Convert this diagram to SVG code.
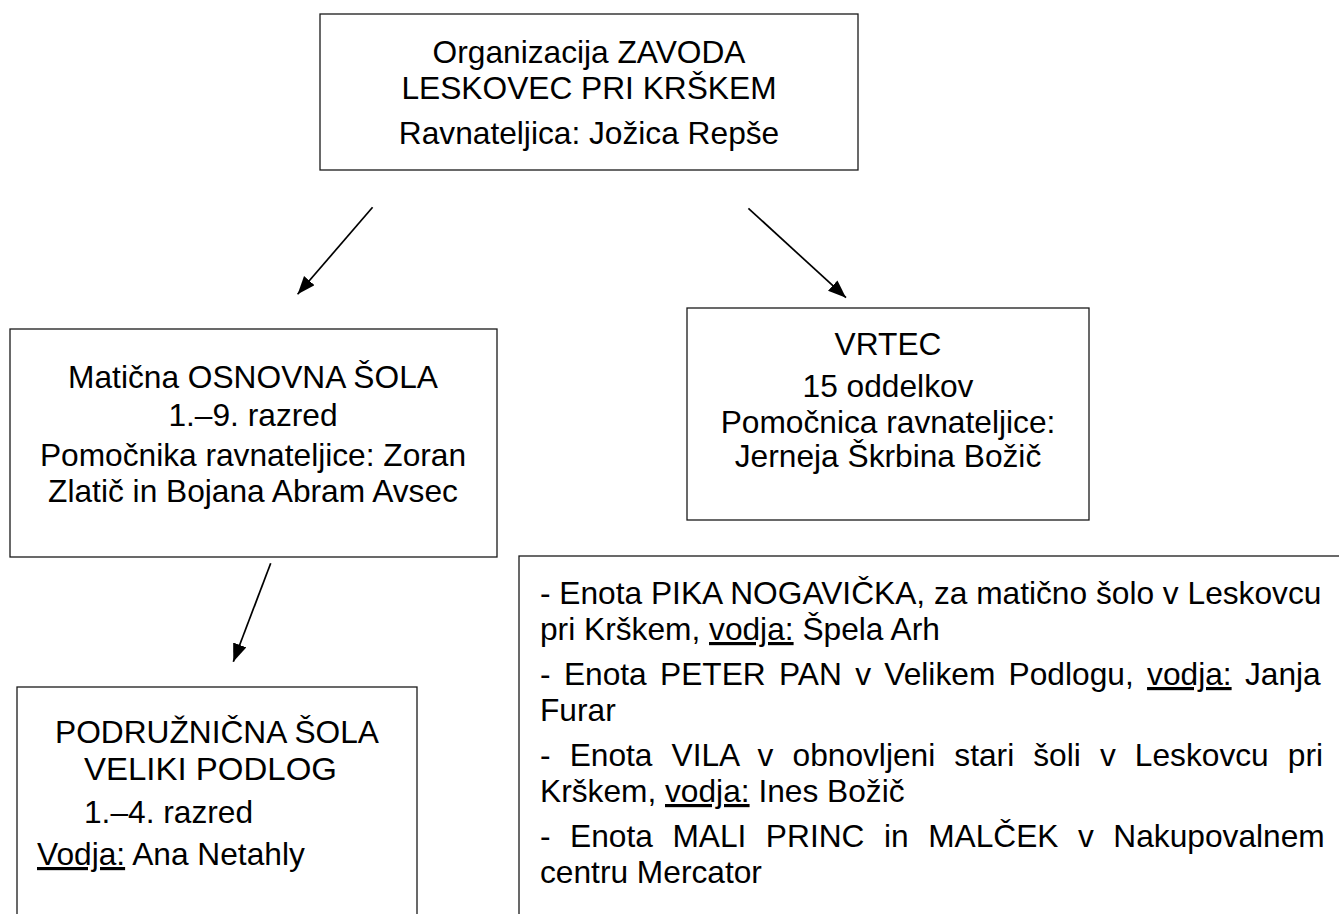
<svg xmlns="http://www.w3.org/2000/svg" width="1339" height="914" viewBox="0 0 1339 914">
<defs>
<style>
.box{fill:#fff;stroke:#1a1a1a;stroke-width:1.3}
text{font-family:"Liberation Sans",Arial,sans-serif;font-size:31.7px;fill:#000}
.c{text-anchor:middle}
.u{text-decoration:underline}
.conn line{stroke:#000;stroke-width:1.7}
</style>
<marker id="ah" markerUnits="userSpaceOnUse" markerWidth="19" markerHeight="15" refX="18" refY="7" orient="auto"><path d="M0,0 L18,7 L0,14 Z" fill="#000"/></marker>
</defs>
<rect width="1339" height="914" fill="#fff"/>
<g id="zavod">
<rect class="box" x="320" y="14" width="538" height="156"/>
<text class="c" x="589" y="63">Organizacija ZAVODA</text>
<text class="c" x="589" y="99">LESKOVEC PRI KRŠKEM</text>
<text class="c" x="589" y="144">Ravnateljica: Jožica Repše</text>
</g>
<g id="osnovna-sola">
<rect class="box" x="10" y="329" width="487" height="228"/>
<text class="c" x="253" y="388">Matična OSNOVNA ŠOLA</text>
<text class="c" x="253" y="426">1.–9. razred</text>
<text class="c" x="253" y="466">Pomočnika ravnateljice: Zoran</text>
<text class="c" x="253" y="502">Zlatič in Bojana Abram Avsec</text>
</g>
<g id="vrtec">
<rect class="box" x="687" y="308" width="402" height="212"/>
<text class="c" x="888" y="355">VRTEC</text>
<text class="c" x="888" y="397">15 oddelkov</text>
<text class="c" x="888" y="433">Pomočnica ravnateljice:</text>
<text class="c" x="888" y="467">Jerneja Škrbina Božič</text>
</g>
<g id="enote">
<rect class="box" x="519" y="556" width="840" height="400"/>
<text x="540" y="604">- Enota PIKA NOGAVIČKA, za matično šolo v Leskovcu</text>
<text x="540" y="640">pri Krškem, <tspan class="u">vodja:</tspan> Špela Arh</text>
<text x="540" y="685" word-spacing="4.53">- Enota PETER PAN v Velikem Podlogu, <tspan class="u">vodja:</tspan> Janja</text>
<text x="540" y="721">Furar</text>
<text x="540" y="766" word-spacing="10.29">- Enota VILA v obnovljeni stari šoli v Leskovcu pri</text>
<text x="540" y="802">Krškem, <tspan class="u">vodja:</tspan> Ines Božič</text>
<text x="540" y="847" word-spacing="10.71">- Enota MALI PRINC in MALČEK v Nakupovalnem</text>
<text x="540" y="883">centru Mercator</text>
</g>
<g id="podruznicna-sola">
<rect class="box" x="17" y="687" width="400" height="260"/>
<text class="c" x="217" y="743">PODRUŽNIČNA ŠOLA</text>
<text x="84" y="780" textLength="253" lengthAdjust="spacingAndGlyphs">VELIKI PODLOG</text>
<text x="84" y="823">1.–4. razred</text>
<text x="37" y="865"><tspan class="u">Vodja:</tspan> Ana Netahly</text>
</g>
<g id="connectors" class="conn">
<line x1="372.6" y1="207.3" x2="297.6" y2="294.3" marker-end="url(#ah)"/>
<line x1="748.4" y1="208.3" x2="846" y2="297.7" marker-end="url(#ah)"/>
<line x1="270.7" y1="563.3" x2="233.3" y2="661.7" marker-end="url(#ah)"/>
</g>
</svg>
